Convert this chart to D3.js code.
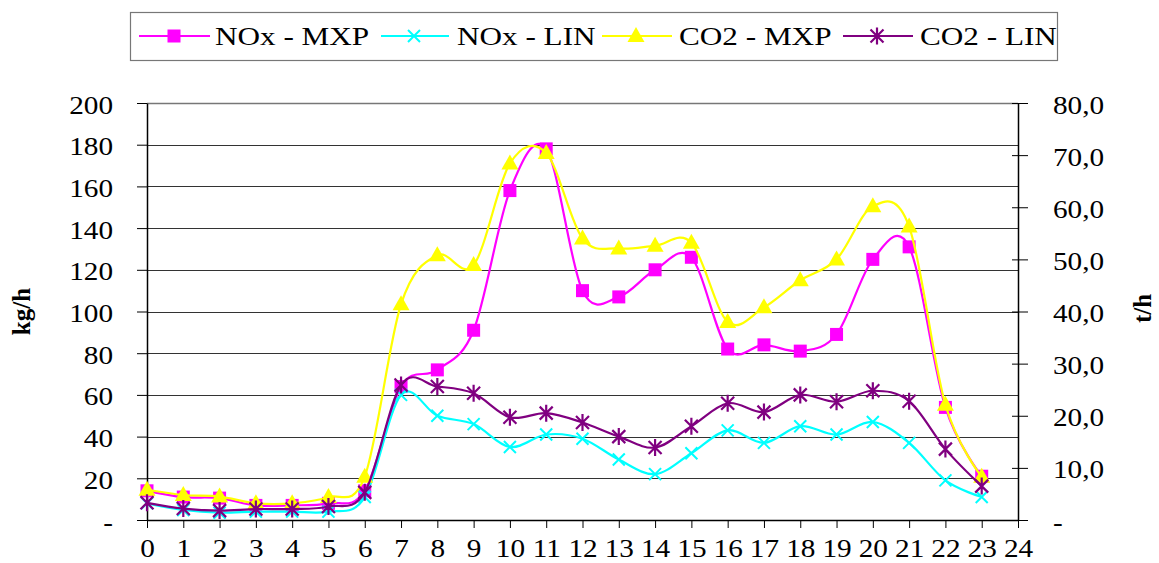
<!DOCTYPE html>
<html>
<head>
<meta charset="utf-8">
<script src="https://cdn.jsdelivr.net/npm/d3@7"></script>
<style>
  html, body { margin: 0; padding: 0; background: #fff; }
  svg { display: block; }
  text { font-family: "Liberation Serif", "Times New Roman", serif; fill: #000; }
</style>
</head>
<body>
<svg id="chart" width="1159" height="563"></svg>
<script>
// ---- data ----
const hours = [0,1,2,3,4,5,6,7,8,9,10,11,12,13,14,15,16,17,18,19,20,21,22,23];
const xTicks = [0,1,2,3,4,5,6,7,8,9,10,11,12,13,14,15,16,17,18,19,20,21,22,23,24];
const leftTicks = [0,20,40,60,80,100,120,140,160,180,200];
const rightTicks = [0,10,20,30,40,50,60,70,80];
// NOx in kg/h (left axis)
const noxMXP = [14, 11, 10.5, 7, 7, 8, 14, 64, 72, 91, 158, 178, 110, 107, 120, 126, 82, 84, 81, 89, 125, 131, 54, 21];
const noxLIN = [8, 4.8, 3.5, 4, 4, 4, 11, 60, 50, 46, 35, 41, 39, 29, 22, 32, 43, 37, 45, 41, 47, 37, 19, 11];
// CO2 in t/h (right axis)
const co2MXP = [5.8, 4.8, 4.5, 3.2, 3.2, 4.4, 8.3, 41.4, 50.8, 48.9, 68.4, 70.4, 54.0, 52.1, 52.6, 53.2, 38.0, 40.8, 46.0, 50.0, 60.2, 56.3, 22.1, 8.3];
const co2LIN = [3.3, 2.2, 1.8, 2.1, 2.1, 2.6, 5.3, 25.9, 25.6, 24.3, 19.7, 20.5, 18.7, 16.0, 13.9, 18.0, 22.4, 20.7, 24.0, 22.7, 24.8, 22.8, 13.6, 6.5];
const seriesNames = ["NOx - MXP", "NOx - LIN", "CO2 - MXP", "CO2 - LIN"];
const leftTitle = "kg/h";
const rightTitle = "t/h";

// ---- layout ----
const X0 = 147, X1 = 1018, Y0 = 520, Y1 = 103;
const SX = 1.17;    // horizontal text stretch of the original
const FS = 25;

const svg = d3.select("#chart");
const x = d3.scaleLinear().domain([0, 24]).range([X0, X1]);
const yL = d3.scaleLinear().domain([0, 200]).range([Y0, Y1]);
const yR = d3.scaleLinear().domain([0, 80]).range([Y0, Y1]);

// gridlines
svg.append("g").selectAll("line").data(leftTicks.filter(d => d > 0)).join("line")
  .attr("x1", X0).attr("x2", X1)
  .attr("y1", d => Math.round(yL(d)) + 0.5).attr("y2", d => Math.round(yL(d)) + 0.5)
  .attr("stroke", d => d === 200 ? "#777" : "#333").attr("stroke-width", d => d === 200 ? 1.5 : 1);

// left axis
const gL = svg.append("g").attr("transform", `translate(${X0},0)`)
  .call(d3.axisLeft(yL).tickValues(leftTicks).tickSize(10).tickSizeOuter(0)
    .tickFormat(d => d === 0 ? "-" : d));
gL.selectAll("text").attr("x", -34 / SX).attr("dy", "0.4em")
  .attr("transform", `scale(${SX},1)`).style("font-size", FS + "px")
  .style("font-family", "'Liberation Serif', serif");

// right axis
const gR = svg.append("g").attr("transform", `translate(${X1},0)`)
  .call(d3.axisRight(yR).tickValues(rightTicks).tickSize(10).tickSizeOuter(0)
    .tickFormat(d => d === 0 ? "-" : d.toFixed(1).replace(".", ",")));
gR.selectAll(".tick").append("line").attr("x1", -6).attr("x2", 0).attr("stroke", "#000");
gR.selectAll("text").attr("x", 35 / SX).attr("dy", "0.4em")
  .attr("transform", `scale(${SX},1)`).style("font-size", FS + "px")
  .style("font-family", "'Liberation Serif', serif");

// bottom axis
const gB = svg.append("g").attr("transform", `translate(0,${Y0})`)
  .call(d3.axisBottom(x).tickValues(xTicks).tickSize(8).tickSizeOuter(0).tickFormat(d => d));
gB.selectAll("text").attr("y", 19).attr("dy", "0.71em")
  .attr("transform", `scale(${SX},1)`).style("font-size", FS + "px")
  .style("font-family", "'Liberation Serif', serif");

[gL, gR, gB].forEach(g => {
  g.select(".domain").attr("stroke", "#000").attr("stroke-width", 1.5);
  g.selectAll(".tick line").attr("stroke", "#000");
});

// axis titles
svg.append("text").attr("transform", `translate(30,${(Y0 + Y1) / 2}) rotate(-90)`)
  .attr("text-anchor", "middle").style("font-size", FS + "px").style("font-weight", "bold")
  .text(leftTitle);
svg.append("text").attr("transform", `translate(1151,${(Y0 + Y1) / 2 - 3}) rotate(-90)`)
  .attr("text-anchor", "middle").style("font-size", FS + "px").style("font-weight", "bold")
  .text(rightTitle);

// markers
function marker(g, type, color) {
  if (type === "square") {
    g.append("rect").attr("x", -6.5).attr("y", -6.5).attr("width", 13).attr("height", 13)
      .attr("fill", color);
  } else if (type === "x") {
    g.append("path").attr("d", "M-6,-6L6,6M-6,6L6,-6").attr("stroke", color).attr("stroke-width", 2).attr("fill", "none");
  } else if (type === "triangle") {
    g.append("path").attr("d", "M0,-9L8.5,6L-8.5,6Z").attr("fill", color);
  } else if (type === "asterisk") {
    g.append("path").attr("d", "M-6.5,-6.5L6.5,6.5M-6.5,6.5L6.5,-6.5M0,-8.5L0,8.5")
      .attr("stroke", color).attr("stroke-width", 2.2).attr("fill", "none");
  }
}

const series = [
  { name: seriesNames[0], values: noxMXP, scale: yL, color: "#FF00FF", m: "square" },
  { name: seriesNames[1], values: noxLIN, scale: yL, color: "#00FFFF", m: "x" },
  { name: seriesNames[2], values: co2MXP, scale: yR, color: "#FFFF00", m: "triangle" },
  { name: seriesNames[3], values: co2LIN, scale: yR, color: "#800080", m: "asterisk" }
];

series.forEach(s => {
  const line = d3.line().x((d, i) => x(hours[i])).y(d => s.scale(d)).curve(d3.curveCardinal.tension(0));
  const g = svg.append("g");
  g.append("path").datum(s.values).attr("d", line).attr("fill", "none")
    .attr("stroke", s.color).attr("stroke-width", 2.2);
  s.values.forEach((v, i) => {
    const mg = g.append("g").attr("transform", `translate(${x(hours[i])},${s.scale(v)})`);
    marker(mg, s.m, s.color);
  });
});

// legend
svg.append("rect").attr("x", 130.5).attr("y", 12.5).attr("width", 927).attr("height", 48)
  .attr("fill", "#fff").attr("stroke", "#777").attr("stroke-width", 1.2);
const legPos = [
  { l1: 139, l2: 210, mx: 174, tx: 215 },
  { l1: 381, l2: 449, mx: 414, tx: 457 },
  { l1: 602, l2: 672, mx: 636, tx: 679 },
  { l1: 843, l2: 913, mx: 877, tx: 920 }
];
series.forEach((s, i) => {
  const p = legPos[i];
  const ly = 36;
  svg.append("line").attr("x1", p.l1).attr("x2", p.l2).attr("y1", ly).attr("y2", ly)
    .attr("stroke", s.color).attr("stroke-width", 2.2);
  marker(svg.append("g").attr("transform", `translate(${p.mx},${ly})`), s.m, s.color);
  svg.append("text").attr("transform", `translate(${p.tx},45) scale(1.2,1)`)
    .style("font-size", "26px").text(s.name);
});
</script>
</body>
</html>
